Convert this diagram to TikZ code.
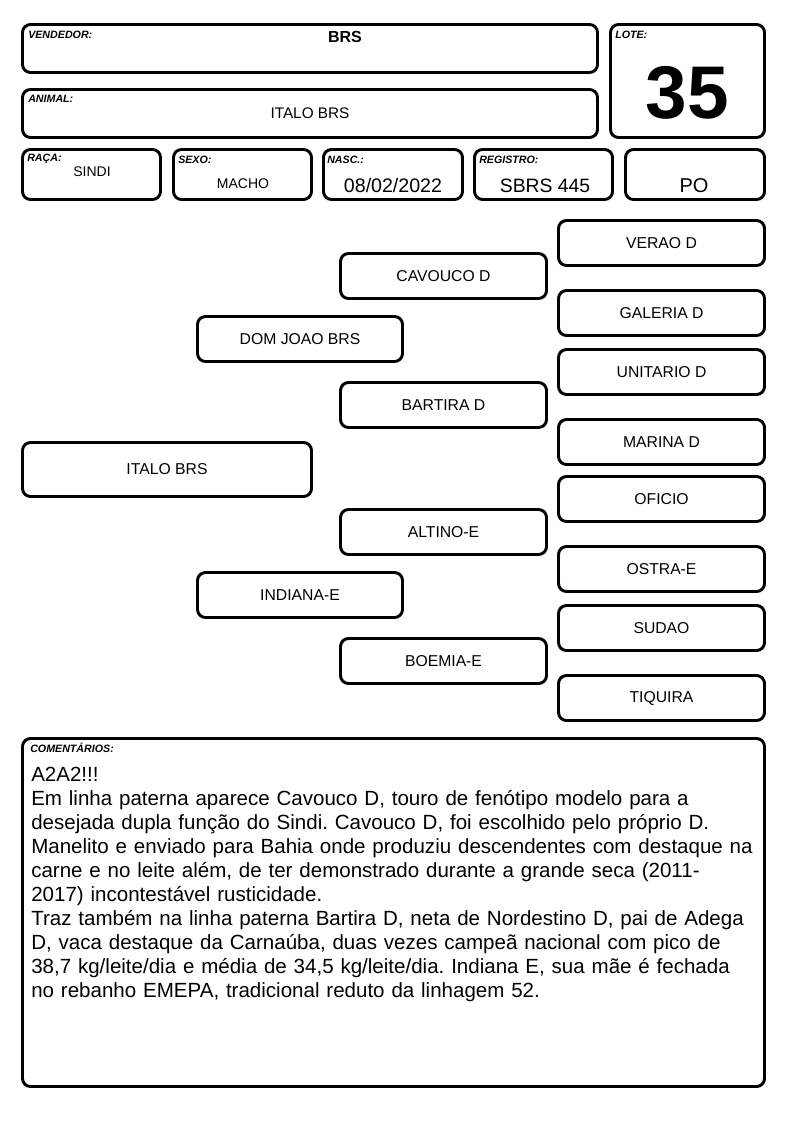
\documentclass[tikz,border=0pt]{standalone}
\usepackage{fontspec}
\setmainfont{Liberation Sans}
\usepackage{tikz}
\usetikzlibrary{fit}

\tikzset{
  caixa/.style={draw, line width=2.2pt, rounded corners=6pt, inner sep=0pt},
  rotulo/.style={anchor=base west, inner sep=0pt, font=\fontsize{8}{9}\selectfont\bfseries\itshape},
  valor/.style={anchor=base, inner sep=0pt},
  nome/.style={caixa, font=\fontsize{11.8}{13}\selectfont},
  animal/.style={nome, minimum width=216.75pt, minimum height=40.5pt},
  pais/.style={nome, minimum width=153.75pt, minimum height=33.75pt},
  avos/.style={nome, minimum width=154.5pt, minimum height=33.75pt},
  bisavos/.style={nome, minimum width=154.5pt, minimum height=33.75pt},
}

\begin{document}
\begin{tikzpicture}[x=0.75pt, y=-0.75pt]
\useasboundingbox (0,0) rectangle (794,1123);

% cabecalho
\node[caixa, fit={(22.5,24.5) (597.5,72.5)}] (vendedor) {};
\node[caixa, fit={(22.5,89.5) (597.5,137.5)}] (animal) {};
\node[caixa, fit={(610.5,24.5) (764.5,137.5)}] (lote) {};
\node[caixa, fit={(22.5,149.5) (160.5,199.5)}] (raca) {};
\node[caixa, fit={(173.5,149.5) (311.5,199.5)}] (sexo) {};
\node[caixa, fit={(323.5,149.5) (462.5,199.5)}] (nasc) {};
\node[caixa, fit={(474.5,149.5) (612.5,199.5)}] (registro) {};
\node[caixa, fit={(625.5,149.5) (764.5,199.5)}] (po) {};

\node[rotulo] (rVendedor) at (28,39) {VENDEDOR:};
\node[rotulo] (rAnimal) at (28,103) {ANIMAL:};
\node[rotulo] (rLote) at (615,39) {LOTE:};
\node[rotulo] (rRaca) at (27,162) {RAÇA:};
\node[rotulo] (rSexo) at (178,164) {SEXO:};
\node[rotulo] (rNasc) at (327,164) {NASC.:};
\node[rotulo] (rRegistro) at (479,164) {REGISTRO:};

\node[valor, font=\fontsize{12}{14}\selectfont\bfseries] (vVendedor) at (345,42.5) {BRS};
\node[valor, font=\fontsize{11.5}{13}\selectfont] (vAnimal) at (310,118.5) {ITALO BRS};
\node[valor, font=\fontsize{56}{60}\selectfont\bfseries] (vLote) at (687.5,119) {35};
\node[valor, font=\fontsize{10.5}{12}\selectfont] (vRaca) at (92,177) {SINDI};
\node[valor, font=\fontsize{10.5}{12}\selectfont] (vSexo) at (243,189) {MACHO};
\node[valor, font=\fontsize{14.7}{17}\selectfont] (vNasc) at (393,193) {08/02/2022};
\node[valor, font=\fontsize{14.5}{17}\selectfont] (vRegistro) at (545,193) {SBRS 445};
\node[valor, font=\fontsize{15}{17}\selectfont] (vPo) at (694,193) {PO};

% genealogia
\node[animal] (italo) at (167,469.5) {ITALO BRS};

\node[pais] (pai) at (300,339) {DOM JOAO BRS};
\node[pais] (mae) at (300,595) {INDIANA-E};

\node[avos] (avoPP) at (443.5,276) {CAVOUCO D};
\node[avos] (avoPM) at (443.5,405) {BARTIRA D};
\node[avos] (avoMP) at (443.5,532) {ALTINO-E};
\node[avos] (avoMM) at (443.5,661) {BOEMIA-E};

\node[bisavos] (bis1) at (661.5,243) {VERAO D};
\node[bisavos] (bis2) at (661.5,313) {GALERIA D};
\node[bisavos] (bis3) at (661.5,372) {UNITARIO D};
\node[bisavos] (bis4) at (661.5,442) {MARINA D};
\node[bisavos] (bis5) at (661.5,499) {OFICIO};
\node[bisavos] (bis6) at (661.5,569) {OSTRA-E};
\node[bisavos] (bis7) at (661.5,628) {SUDAO};
\node[bisavos] (bis8) at (661.5,698) {TIQUIRA};

% comentarios
\node[caixa, fit={(22.5,738.5) (764.5,1086.5)}] (comentarios) {};
\node[rotulo] (rComentarios) at (30,752) {COMENTÁRIOS:};
\node[anchor=base west, inner sep=0pt, align=left, text width=600pt,
  font=\fontsize{15.4}{18}\selectfont\frenchspacing] (texto) at (31,781) {A2A2!!!\\
Em linha paterna aparece Cavouco D, touro de fenótipo modelo para a\\
desejada dupla função do Sindi. Cavouco D, foi escolhido pelo próprio D.\\
Manelito e enviado para Bahia onde produziu descendentes com destaque na\\
carne e no leite além, de ter demonstrado durante a grande seca (2011-\\
2017) incontestável rusticidade.\\
Traz também na linha paterna Bartira D, neta de Nordestino D, pai de Adega\\
D, vaca destaque da Carnaúba, duas vezes campeã nacional com pico de\\
38,7 kg/leite/dia e média de 34,5 kg/leite/dia. Indiana E, sua mãe é fechada\\
no rebanho EMEPA, tradicional reduto da linhagem 52.};
\end{tikzpicture}
\end{document}
